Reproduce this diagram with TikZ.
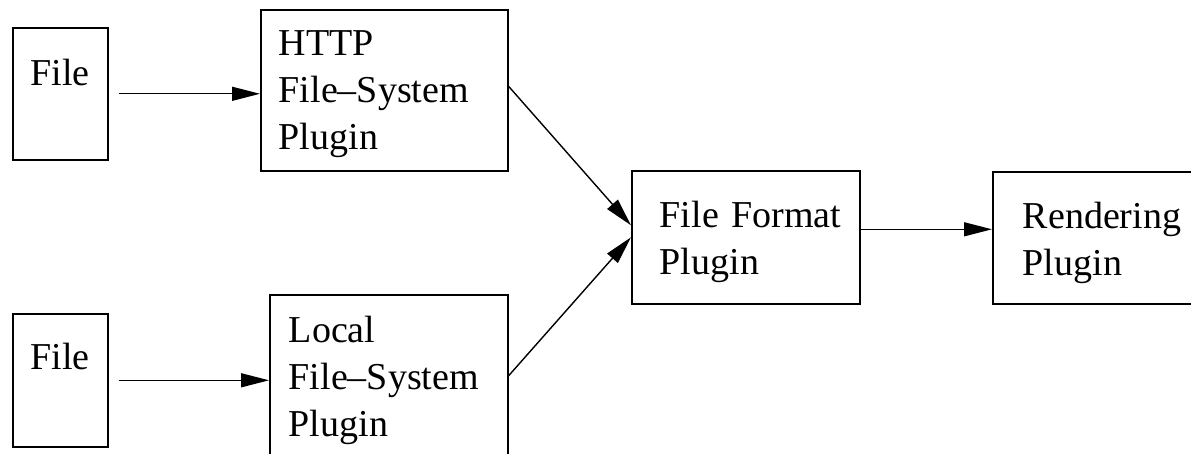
\documentclass[tikz,border=0pt]{standalone}
\usepackage{fontspec}
\setmainfont{Liberation Serif}
\usetikzlibrary{arrows.meta}

\begin{document}
\begin{tikzpicture}[x=0.5pt,y=-0.5pt,line width=0.8pt,
  plug/.style={draw,rectangle,anchor=north west,inner ysep=0pt,align=left,font=\fontsize{19}{23.5}\selectfont},
  flow/.style={-{Triangle[length=14pt,width=7pt]},line width=0.7pt}]
  \useasboundingbox (0,0) rectangle (1191,454);
  \node[plug,align=center,inner xsep=0pt,text width=47.5pt,text height=29pt,text depth=37pt] (file1) at (12,27) {File};
  \node[plug,align=center,inner xsep=0pt,text width=47.5pt,text height=28pt,text depth=38.5pt] (file2) at (12,313) {File};
  \node[plug,inner xsep=9pt,text width=105.5pt,text height=23pt,text depth=57.5pt] (http) at (260,9) {HTTP\\File–System\\Plugin};
  \node[plug,inner xsep=9.5pt,text width=100pt,text height=24pt,text depth=57pt] (local) at (269,294) {Local\\File–System\\Plugin};
  \node[plug,inner xsep=14pt,text width=86pt,text height=28.5pt,text depth=38pt] (ff) at (631,170) {\mbox{File Format}\\Plugin};
  \node[plug,inner xsep=15pt,text width=80pt,text height=28.5pt,text depth=37.5pt] (render) at (992,171) {Rendering\\Plugin};
  \draw[flow,shorten <=5pt] (file1.east) -- (file1.east -| http.west); \draw[flow,shorten <=5pt] (file2.east) -- (file2.east -| local.west);
  \draw[flow] ([yshift=2pt]http.east) -- ([yshift=6pt]ff.west); \draw[flow] (local.east) -- (ff.west);
  \draw[flow] ([yshift=4pt]ff.east) -- ([yshift=4pt]ff.east -| render.west);
\end{tikzpicture}
\end{document}
